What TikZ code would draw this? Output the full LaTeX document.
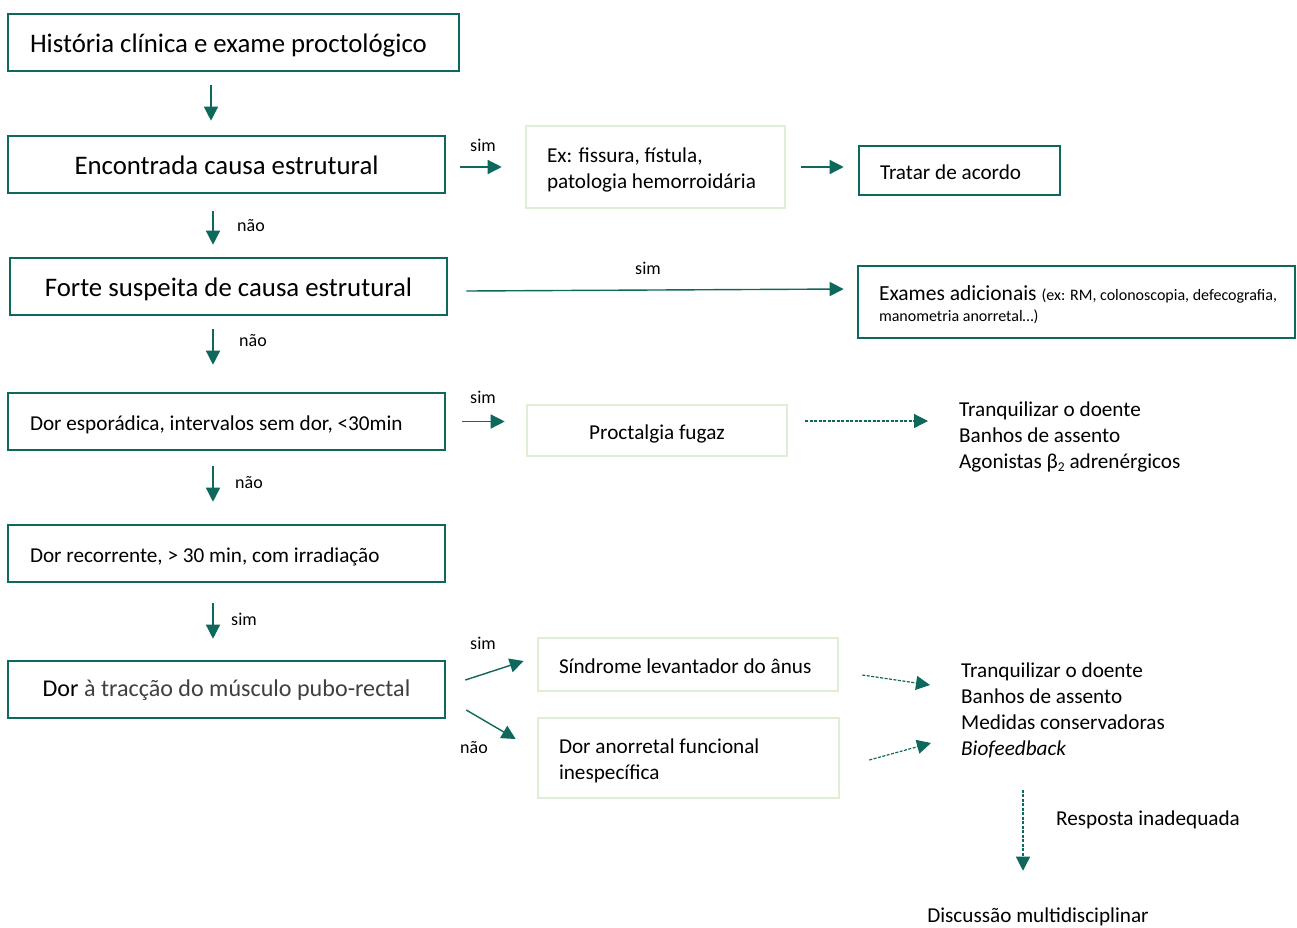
\documentclass[tikz,border=0pt]{standalone}
\usepackage{fontspec}
\setmainfont{Carlito}
\usetikzlibrary{arrows.meta}
\definecolor{dk}{RGB}{14,104,92}
\definecolor{lg}{RGB}{224,238,214}
\definecolor{gr}{RGB}{64,64,64}
\begin{document}
\begin{tikzpicture}[x=1pt,y=-1pt,
  dbox/.style={draw=dk, line width=2.6pt, inner sep=0pt, minimum height=57pt},
  lbox/.style={draw=lg, line width=2.6pt, inner sep=0pt},
  big/.style={font=\fontsize{26.8}{30}\selectfont, text height=26pt, text depth=6pt},
  mid/.style={font=\fontsize{21.2}{26}\selectfont},
  one/.style={text height=22pt, text depth=5pt},
  two/.style={text height=22pt, text depth=31pt},
  lab/.style={font=\fontsize{18}{20}\selectfont, inner sep=0pt},
  arr/.style={dk, line width=1.4pt, -{Triangle[length=14pt,width=14pt]}},
  darr/.style={dk, line width=1.2pt, dash pattern=on 3pt off 1.5pt, -{Triangle[length=14pt,width=14pt]}},
  free/.style={align=left, inner sep=0pt, mid},
]
\fill[white] (0,0) rectangle (1297,927);
\useasboundingbox (0,0) rectangle (1297,927);

% boxes
\node[dbox, big, minimum width=451pt, text width=407pt, inner xsep=22pt, align=flush left] (A) at (233.5,42.5) {História clínica e exame proctológico};
\node[dbox, big, minimum width=437pt] (B) at (226.5,164.5) {Encontrada causa estrutural};
\node[lbox, mid, two, minimum width=259pt, minimum height=82pt, text width=217pt, inner xsep=21pt, align=flush left] (C) at (655.5,167) {Ex: fissura, fístula,\\patologia hemorroidária};
\node[dbox, mid, one, minimum width=201pt, minimum height=49pt, text width=159pt, inner xsep=21pt, align=flush left] (D) at (959.5,170.5) {Tratar de acordo};
\node[dbox, big, minimum width=437pt] (E) at (228.5,286.5) {Forte suspeita de causa estrutural};
\node[dbox, minimum width=437pt, minimum height=72pt, text width=405pt, inner xsep=16pt, align=flush left, font=\fontsize{21.5}{21}\selectfont, text height=21pt, text depth=25pt] (F) at (1076.5,302) {\hspace*{5pt}Exames adicionais {\fontsize{16}{21}\selectfont (ex: RM, colonoscopia, defecografia,}\\\hspace*{5pt}{\fontsize{16}{21}\selectfont manometria anorretal…)}};
\node[dbox, mid, one, minimum width=437pt, text width=393pt, inner xsep=22pt, align=flush left] (G) at (226.5,421.5) {Dor esporádica, intervalos sem dor, <30min};
\node[lbox, mid, one, minimum width=260pt, minimum height=51pt] (H) at (657,430.5) {Proctalgia fugaz};
\node[dbox, mid, one, minimum width=437pt, text width=393pt, inner xsep=22pt, align=flush left] (I) at (226.5,553.5) {Dor recorrente, > 30 min, com irradiação};
\node[dbox, font=\fontsize{24.1}{28}\selectfont, text height=19pt, text depth=6pt, minimum width=437pt] (J) at (226.5,689.5) {Dor {\color{gr}à tracção do músculo pubo-rectal}};
\node[lbox, mid, one, minimum width=300pt, minimum height=53pt, text width=258pt, inner xsep=21pt, align=flush left] (K) at (688,664.5) {Síndrome levantador do ânus};
\node[lbox, mid, two, minimum width=301pt, minimum height=80pt, text width=259pt, inner xsep=21pt, align=flush left] (L) at (688.5,758) {Dor anorretal funcional\\inespecífica};

% free texts
\node[free, anchor=west] (T1) at (959,437) {Tranquilizar o doente\\Banhos de assento\\Agonistas β\raisebox{-0.25ex}{\fontsize{13.5}{13}\selectfont 2} adrenérgicos};
\node[free, anchor=west] (T2) at (961,710) {Tranquilizar o doente\\Banhos de assento\\Medidas conservadoras\\\textit{Biofeedback}};
\node[free, anchor=west] (R) at (1056,820) {Resposta inadequada};
\node[free] (Dm) at (1038,917) {Discussão multidisciplinar};

% labels
\node[lab] (l1) at (483,145) {sim};
\node[lab] (l2) at (251,226) {não};
\node[lab] (l3) at (648,268) {sim};
\node[lab] (l4) at (253,341) {não};
\node[lab] (l5) at (483,397) {sim};
\node[lab] (l6) at (249,483) {não};
\node[lab] (l7) at (244,619) {sim};
\node[lab] (l8) at (483,643) {sim};
\node[lab] (l9) at (474,748) {não};

% vertical arrows
\coordinate (v1) at (211,0);
\coordinate (v2) at (213,0);
\coordinate (v3) at (1023,0);
\draw[arr, shorten <=13pt, shorten >=14pt] (A.south -| v1) -- (B.north -| v1);
\draw[arr, shorten <=17pt, shorten >=12pt] (B.south -| v2) -- (E.north -| v2);
\draw[arr, shorten <=13pt, shorten >=27pt] (E.south -| v2) -- (G.north -| v2);
\draw[arr, shorten <=15pt, shorten >=22pt] (G.south -| v2) -- (I.north -| v2);
\draw[arr, shorten <=20pt, shorten >=21pt] (I.south -| v2) -- (J.north -| v2);

% horizontal arrows
\draw[arr, shorten <=14pt, shorten >=23pt] (B.east |- C.west) -- (C.west);
\draw[arr, shorten <=15pt, shorten >=14pt] (C.east) -- (D.west |- C.east);
\draw[arr] ([shift={(18,4.5)}]E.east) -- ([shift={(-13,-13)}]F.west);
\draw[arr, shorten <=16pt, shorten >=21pt] (G.east) -- (H.west |- G.east);
\coordinate (h1) at ([shift={(17,-9.5)}]H.east);
\draw[darr] (h1) -- ([shift={(-31,0)}]h1 -| T1.west);
\draw[arr] ([shift={(19,-9.5)}]J.east) -- ([shift={(-13,-3.5)}]K.west);
\draw[arr] ([shift={(20,20.5)}]J.east) -- ([shift={(-21,-19)}]L.west);
\draw[darr] ([shift={(23,10.5)}]K.east) -- ([shift={(-31,-25)}]T2.west);
\draw[darr] ([shift={(29,2)}]L.east) -- ([shift={(-30,33)}]T2.west);
\draw[darr, shorten <=32pt, shorten >=37pt] (T2.south -| v3) -- (Dm.north -| v3);
\end{tikzpicture}
\end{document}
